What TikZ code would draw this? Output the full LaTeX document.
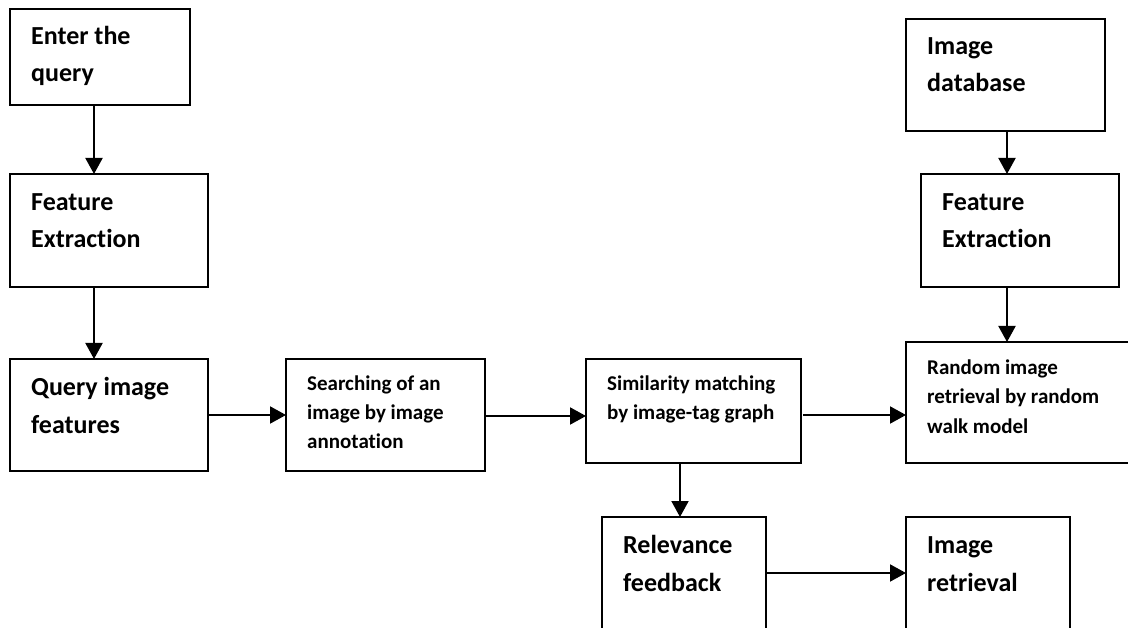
\documentclass[tikz,border=0pt]{standalone}
\usepackage{fontspec}
\setmainfont{Carlito}[Ligatures={NoCommon}]
\usetikzlibrary{arrows.meta}
\begin{document}
\begin{tikzpicture}[x=1pt,y=-1pt,
  box/.style={draw,line width=2pt,anchor=north west,inner sep=0pt,outer sep=0pt},
  bigtxt/.style={anchor=base west,inner sep=0pt,align=left,font=\fontsize{26}{37.5}\selectfont\bfseries},
  smalltxt/.style={anchor=base west,inner sep=0pt,align=left,font=\fontsize{21}{29.2}\selectfont\bfseries},
  arr/.style={line width=2pt,-{Triangle[length=16pt,width=17pt]}}]
\useasboundingbox[fill=white] (0,0) rectangle (1128,628);
% boxes
\node[box,minimum width=180pt,minimum height=96pt] (q1) at (10,9) {};
\node[box,minimum width=198pt,minimum height=113pt] (fe1) at (10,174) {};
\node[box,minimum width=198pt,minimum height=112pt] (qf) at (10,359) {};
\node[box,minimum width=199pt,minimum height=112pt] (srch) at (286,359) {};
\node[box,minimum width=215pt,minimum height=104pt] (sim) at (586,359) {};
\node[box,minimum width=240pt,minimum height=121pt] (rnd) at (906,342) {};
\node[box,minimum width=199pt,minimum height=112pt] (idb) at (906,19) {};
\node[box,minimum width=198pt,minimum height=113pt] (fe2) at (921,174) {};
\node[box,minimum width=164pt,minimum height=140pt] (rel) at (602,517) {};
\node[box,minimum width=164pt,minimum height=140pt] (iret) at (906,517) {};
% texts (anchor = baseline of last line)
\node[bigtxt] (t1) at (31,82) {Enter the\\query};
\node[bigtxt] (t2) at (31,248) {Feature\\Extraction};
\node[bigtxt] (t3) at (31,433) {Query image\\features};
\node[smalltxt] (t4) at (307,449) {Searching of an\\image by image\\annotation};
\node[smalltxt] (t5) at (607,420) {Similarity matching\\by image-tag graph};
\node[smalltxt] (t6) at (927,433) {Random image\\retrieval by random\\walk model};
\node[bigtxt] (t7) at (927,92) {Image\\database};
\node[bigtxt] (t8) at (942,248) {Feature\\Extraction};
\node[bigtxt] (t9) at (623,591) {Relevance\\feedback};
\node[bigtxt] (t10) at (927,591) {Image\\retrieval};
% connectors
\draw[arr] ([xshift=84pt]q1.south west) -- ([xshift=84pt]q1.south west |- fe1.north);
\draw[arr] ([xshift=84pt]fe1.south west) -- ([xshift=84pt]fe1.south west |- qf.north);
\draw[arr] (qf.east) -- (qf.east -| srch.west);
\draw[arr] ([yshift=-1pt]srch.east) -- ([yshift=-1pt]srch.east -| sim.west);
\draw[arr] ([xshift=2pt,yshift=-4pt]sim.east) -- ([yshift=-4pt]sim.east -| rnd.west);
\draw[arr] ([xshift=101pt]idb.south west) -- ([xshift=101pt]idb.south west |- fe2.north);
\draw[arr] ([xshift=86pt]fe2.south west) -- ([xshift=86pt]fe2.south west |- rnd.north);
\draw[arr] ([xshift=94pt]sim.south west) -- ([xshift=94pt]sim.south west |- rel.north);
\draw[arr] ([yshift=-56pt]rel.north east) -- ([yshift=-56pt]rel.north east -| iret.west);
\end{tikzpicture}
\end{document}
